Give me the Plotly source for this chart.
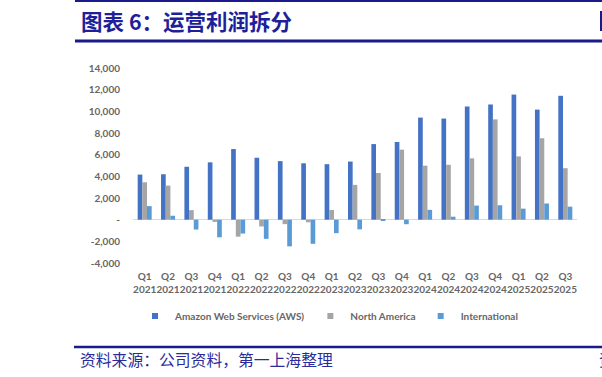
import plotly.graph_objects as go

quarters = ["Q1", "Q2", "Q3", "Q4"] * 4 + ["Q1", "Q2", "Q3"]
years = ["2021"] * 4 + ["2022"] * 4 + ["2023"] * 4 + ["2024"] * 4 + ["2025"] * 3
categories = [f"{q}<br>{y}" for q, y in zip(quarters, years)]

aws = [4163, 4193, 4883, 5293, 6518, 5715, 5403, 5205, 5123, 5365, 6976, 7167,
       9421, 9334, 10447, 10632, 11547, 10160, 11434]
north_america = [3450, 3145, 880, -206, -1568, -627, -412, -240, 898, 3211, 4307, 6461,
                 4983, 5065, 5663, 9256, 5841, 7517, 4751]
international = [1252, 362, -911, -1627, -1281, -1771, -2465, -2228, -1247, -895, -95, -419,
                  903, 273, 1301, 1329, 1017, 1494, 1199]

series_names = ["Amazon Web Services (AWS)", "North America", "International"]
series_values = [aws, north_america, international]
colors = ["#4472C4", "#A5A5A5", "#5B9BD5"]

y_ticks = [-4000, -2000, 0, 2000, 4000, 6000, 8000, 10000, 12000, 14000]
y_ticktext = ["-4,000", "-2,000", "-", "2,000", "4,000", "6,000", "8,000", "10,000", "12,000", "14,000"]

title_text = "图表 6：运营利润拆分"
source_text = "资料来源：公司资料，第一上海整理"

W, H = 602, 377
L, R, T, B = 133, 577, 68, 263


def px(x):
    return (x - L) / (R - L)


def py(y):
    return (B - y) / (B - T)


fig = go.Figure()
for name, vals, col in zip(series_names, series_values, colors):
    fig.add_trace(go.Bar(x=categories, y=vals, name=name, marker_color=col,
                         marker_line_width=0, showlegend=False))
for name, col in zip(series_names, colors):
    fig.add_trace(go.Scatter(x=[None], y=[None], mode="markers", name=name,
                             marker=dict(symbol="square", size=6, color=col)))

tick_font = dict(family="Lato", size=10, color="#666666", weight="bold")

fig.update_layout(
    width=W, height=H,
    margin=dict(l=L, r=W - R, t=T, b=H - B),
    paper_bgcolor="white", plot_bgcolor="white",
    barmode="group", bargap=0.4, bargroupgap=0,
    showlegend=True,
    legend=dict(orientation="h", x=px(135), xanchor="left", y=py(316), yanchor="middle",
                font=dict(family="Lato", size=10, color="#666666", weight="bold"),
                bgcolor="rgba(0,0,0,0)", itemclick=False),
    xaxis=dict(type="category", showgrid=False, showline=False, ticks="",
               tickangle=0, tickfont=tick_font, ticklabelstandoff=6, fixedrange=True),
    yaxis=dict(range=[-4000, 14000], tickvals=y_ticks, ticktext=y_ticktext,
               showgrid=False, showline=False, ticks="", tickfont=tick_font,
               zeroline=True, zerolinecolor="#D9D9D9", zerolinewidth=1,
               ticklabelstandoff=12, fixedrange=True),
    shapes=[
        dict(type="line", xref="paper", yref="paper", x0=px(75), x1=px(602),
             y0=py(1), y1=py(1), line=dict(color="#1A1A8C", width=2)),
        dict(type="line", xref="paper", yref="paper", x0=px(75), x1=px(602),
             y0=py(41), y1=py(41), line=dict(color="#1A1A8C", width=3)),
        dict(type="line", xref="paper", yref="paper", x0=px(74), x1=px(602),
             y0=py(347), y1=py(347), line=dict(color="#1A1A8C", width=2.5)),
        dict(type="rect", xref="paper", yref="paper", x0=px(600), x1=px(603),
             y0=py(31), y1=py(11), line=dict(width=0), fillcolor="#1A1A8C"),
    ],
    annotations=[
        dict(text=title_text, xref="paper", yref="paper", x=px(79), y=py(21),
             xanchor="left", yanchor="middle", showarrow=False,
             font=dict(family="Noto Sans CJK SC", size=21.5, color="#1F1F99", weight="bold")),
        dict(text=source_text, xref="paper", yref="paper", x=px(78), y=py(359),
             xanchor="left", yanchor="middle", showarrow=False,
             font=dict(family="Noto Sans CJK SC", size=15.8, color="#2A2A9C")),
        dict(text="资", xref="paper", yref="paper", x=px(597), y=py(359),
             xanchor="left", yanchor="middle", showarrow=False,
             font=dict(family="Noto Sans CJK SC", size=15.8, color="#2A2A9C")),
    ],
)

fig.write_html("out.html", config={"displayModeBar": False},
               post_script="document.body.style.margin='0px';document.body.style.overflow='hidden';")
